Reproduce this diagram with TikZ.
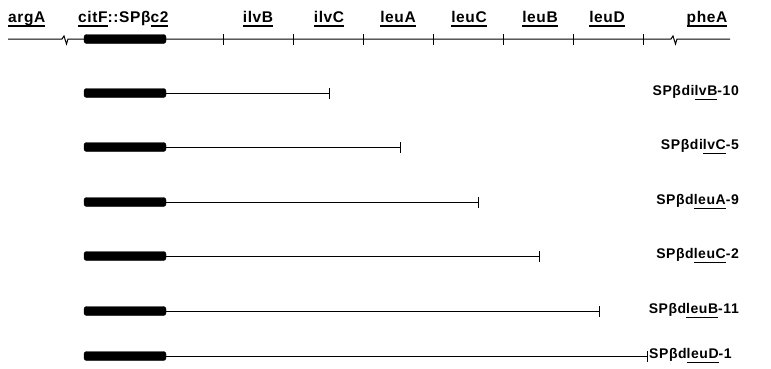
\documentclass[tikz,border=0pt]{standalone}
\usepackage{fontspec}
\setmainfont{Liberation Sans}
\newcommand\gul[1]{\setbox0\hbox{#1}\rlap{\rule[-4.5pt]{\wd0}{1.2pt}}\box0}
\begin{document}
\begin{tikzpicture}[x=1pt,y=-1pt,
  lbl/.style={inner sep=0pt,font=\bfseries\fontsize{15.5}{17}\selectfont\addfontfeatures{LetterSpace=4}},
  rlbl/.style={inner sep=0pt,font=\bfseries\fontsize{14}{16}\selectfont\addfontfeatures{LetterSpace=4}},
  thin/.style={line width=1pt},
  bar/.style={fill=black,rounded corners=2.5pt},
  tk/.style={line width=1pt}]
\useasboundingbox (0,0) rectangle (771,368);
% top map
\coordinate (L0) at (8,39);
\coordinate (Z1) at (62,39);
\coordinate (Z2) at (68,39);
\coordinate (Z3) at (671,39);
\coordinate (Z4) at (677,39);
\coordinate (R0) at (730,39);
\draw[thin] (L0) -- (Z1) -- ++(2,-3) -- ++(2.5,8) -- (Z2) -- (Z3) -- ++(2,-3) -- ++(2.5,8) -- (Z4) -- (R0);
\draw[bar] (84,34.5) rectangle (166,43.5);
\foreach \x in {223,293,363,433,503,573,643}
  \draw[tk] (\x,34) -- (\x,45);
\node[lbl,anchor=base west] (argA) at (8,22) {\gul{argA}};
\node[lbl,anchor=base west] (citF) at (78,22) {\gul{citF}::SPβ\gul{c2}};
\node[lbl,anchor=base] (ilvB) at (258,22) {\gul{ilvB}};
\node[lbl,anchor=base] (ilvC) at (329,22) {\gul{ilvC}};
\node[lbl,anchor=base] (leuA) at (398,22) {\gul{leuA}};
\node[lbl,anchor=base] (leuC) at (469,22) {\gul{leuC}};
\node[lbl,anchor=base] (leuB) at (540,22) {\gul{leuB}};
\node[lbl,anchor=base] (leuD) at (607,22) {\gul{leuD}};
\node[lbl,anchor=base] (pheA) at (707,22) {\gul{pheA}};
% deletion rows
\foreach \y/\e/\t [count=\i] in {93/329/{SPβdi\gul{lvB}-10},147/400/{SPβdi\gul{lvC}-5},202/478/{SPβd\gul{leuA}-9},256/539/{SPβd\gul{leuC}-2},311/599/{SPβd\gul{leuB}-11}}{
  \draw[bar] (84,\y-4.5) rectangle (166,\y+4.5);
  \coordinate (s\i) at (166,\y);
  \coordinate (e\i) at (\e,\y);
  \draw[thin] (s\i) -- (e\i);
  \draw[tk] ([yshift=-5.5pt]e\i) -- ([yshift=5.5pt]e\i);
  \node[rlbl,anchor=east] (n\i) at (739,\y) {\t};
}
\draw[bar] (84,351.5) rectangle (166,360.5);
\coordinate (s6) at (166,356);
\coordinate (e6) at (647,356);
\draw[thin] (s6) -- (e6);
\draw[tk] ([yshift=-5.5pt]e6) -- ([yshift=5.5pt]e6);
\node[rlbl,anchor=west] (n6) at ([xshift=2pt]e6) {SPβd\gul{leuD}-1};
\end{tikzpicture}
\end{document}
